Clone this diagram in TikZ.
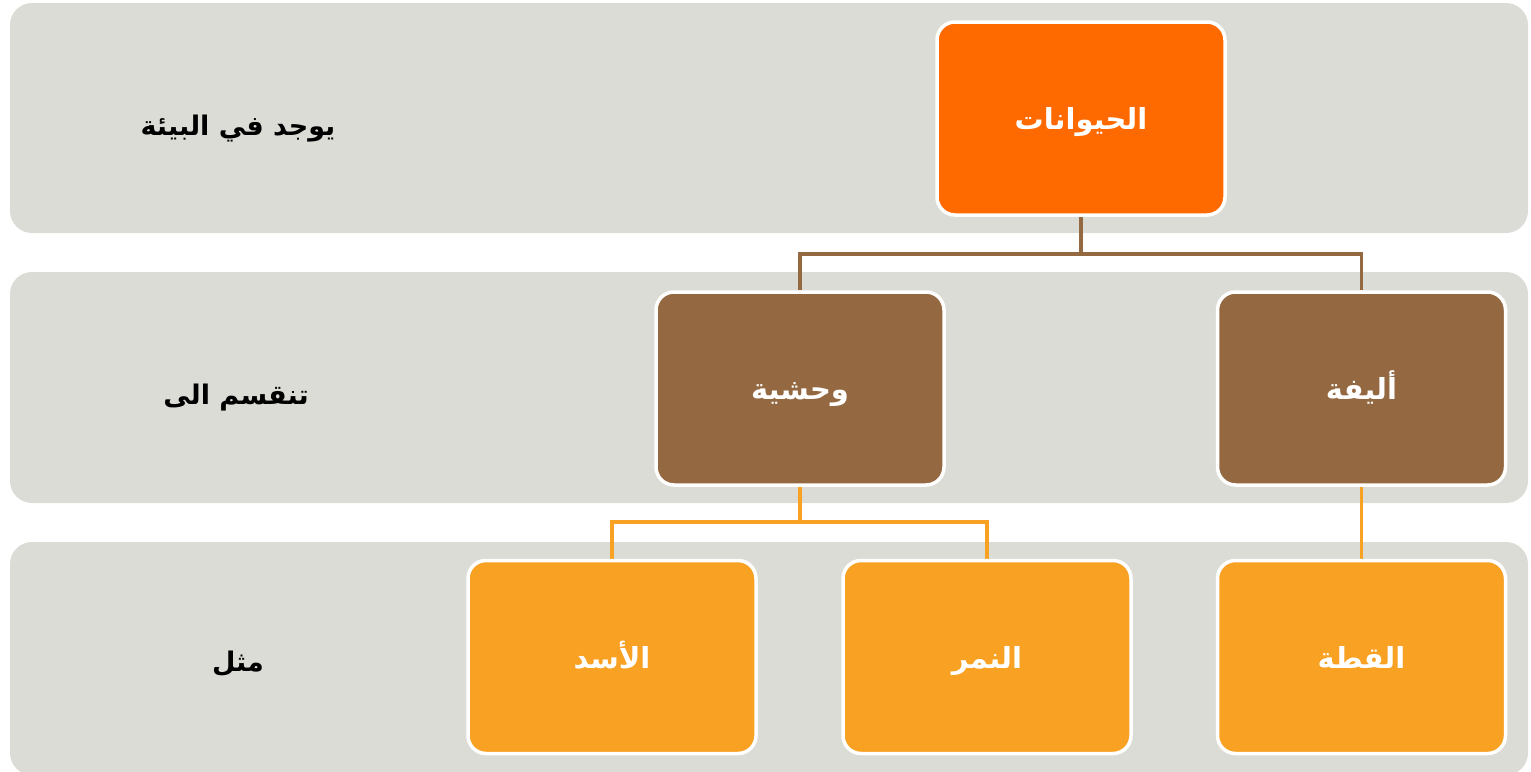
\documentclass[tikz,border=0pt]{standalone}
\usepackage{fontspec}
\TeXXeTstate=1
\newfontfamily\arabicfont[Script=Arabic]{DejaVu Sans}
\pgfdeclarelayer{bands}
\pgfdeclarelayer{links}
\pgfsetlayers{bands,links,main}

\definecolor{bandgray}{HTML}{DCDCD6}
\definecolor{rootorange}{HTML}{FF6A00}
\definecolor{midbrown}{HTML}{946941}
\definecolor{leaforange}{HTML}{F8A123}

% box caption: baseline fixed 11pt below the box centre
\newcommand\boxcaption[1]{\raisebox{-11pt}[0pt][0pt]{\beginR #1\endR}}

\tikzset{
  box/.style={rectangle, rounded corners=18pt, draw=white, line width=3.5pt,
    minimum width=288pt, minimum height=193pt, inner sep=0pt,
    text=white, font=\arabicfont\bfseries\fontsize{29}{33}\selectfont},
  rootbox/.style={box, fill=rootorange},
  midbox/.style={box, fill=midbrown},
  leafbox/.style={box, fill=leaforange},
  rowlabel/.style={anchor=base, text=black, inner sep=0pt,
    font=\arabicfont\bfseries\fontsize{27}{31}\selectfont},
  band/.style={fill=bandgray, rounded corners=22pt},
  brownlink/.style={draw=midbrown, line width=3.5pt},
  orangelink/.style={draw=leaforange, line width=3.5pt}
}

\begin{document}
\begin{tikzpicture}[x=1pt, y=-1pt]
  \useasboundingbox (0,0) rectangle (1531,771);

  % grey rows
  \begin{pgfonlayer}{bands}
    \fill[band] (10,3) rectangle (1528,233);
    \fill[band] (10,272) rectangle (1528,503);
    \fill[band] (10,542) rectangle (1528,775);
  \end{pgfonlayer}

  % row captions
  \node[rowlabel] (l1) at (238,135) {\beginR يوجد في البيئة\endR};
  \node[rowlabel] (l2) at (236,404) {\beginR تنقسم الى\endR};
  \node[rowlabel] (l3) at (238,671) {\beginR مثل\endR};

  % hierarchy
  \node[rootbox] (root) at (1081,118.5) {\boxcaption{الحيوانات}};
  \node[midbox] (wild) at (800,388.5) {\boxcaption{وحشية}};
  \node[midbox] (pet) at (1361.5,388.5) {\boxcaption{أليفة}};
  \node[leafbox] (lion) at (612,657) {\boxcaption{الأسد}};
  \node[leafbox] (tiger) at (987,657) {\boxcaption{النمر}};
  \node[leafbox] (cat) at (1361.5,657) {\boxcaption{القطة}};

  \coordinate (j1) at (1081,254);
  \coordinate (j2) at (800,522);

  \begin{pgfonlayer}{links}
    \draw[brownlink] (root.south) -- (j1) -| (wild.north);
    \draw[brownlink] (j1) -| (pet.north);
    \draw[orangelink] (wild.south) -- (j2) -| (lion.north);
    \draw[orangelink] (j2) -| (tiger.north);
    \draw[orangelink] (pet.south) -- (cat.north);
  \end{pgfonlayer}
\end{tikzpicture}
\end{document}
